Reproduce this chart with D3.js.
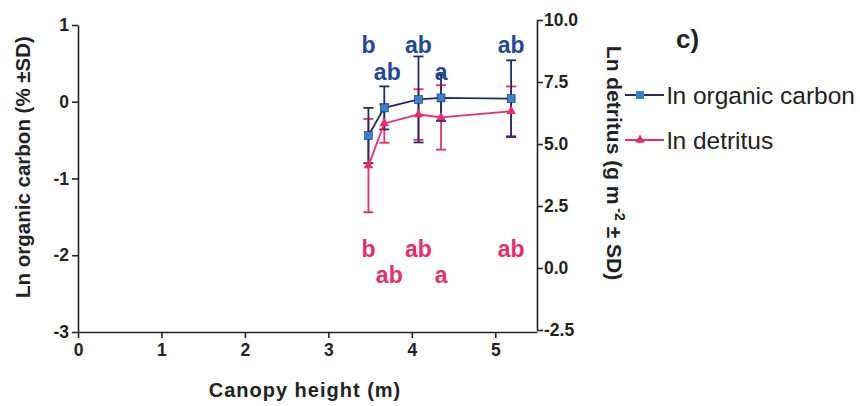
<!DOCTYPE html>
<html><head><meta charset="utf-8">
<script src="https://cdn.jsdelivr.net/npm/d3@7"></script>
<style>body{margin:0;background:#fff}svg{display:block}text{font-family:"Liberation Sans",Arial,sans-serif}</style>
</head><body>
<script>
const canopyHeight = [3.48, 3.67, 4.08, 4.35, 5.19];
const lnCarbon = [-0.44, -0.08, 0.03, 0.05, 0.04];
const lnCarbonSD = [0.36, 0.28, 0.56, 0.30, 0.50];
const lnDetritus = [4.13, 5.83, 6.19, 6.07, 6.32];
const lnDetritusSD = [1.88, 0.78, 1.02, 1.30, 1.00];
const carbonLetters = ["b", "ab", "ab", "a", "ab"];
const detritusLetters = ["b", "ab", "ab", "a", "ab"];
const xTicks = [0, 1, 2, 3, 4, 5];
const leftTicks = [1, 0, -1, -2, -3];
const rightTicks = [10, 7.5, 5, 2.5, 0, -2.5];

const W = 860, H = 406;
const svg = d3.select("body").append("svg").attr("width", W).attr("height", H);
const x = d3.scaleLinear().domain([0, 5.5]).range([78, 537]);
const yL = d3.scaleLinear().domain([-3, 1]).range([332, 25]);
const yR = d3.scaleLinear().domain([-2.5, 10]).range([330, 20]);

const blue = "#3b7fcf", navy = "#1d2f63", letterBlue = "#23479a", pink = "#ea2c6e";

function styleAxis(g){
  g.selectAll("path,line").attr("stroke", "#222").attr("stroke-width", 1.6);
  g.selectAll("text").attr("font-size", 17.5).attr("font-weight", "bold").attr("fill", "#222");
}
svg.append("g").attr("transform", "translate(0,332)")
  .call(d3.axisBottom(x).tickValues(xTicks).tickFormat(d => String(d)).tickSize(6).tickSizeOuter(0).tickPadding(6))
  .call(styleAxis);
svg.append("g").attr("transform", "translate(78,0)")
  .call(d3.axisLeft(yL).tickValues(leftTicks).tickFormat(d => String(d)).tickSize(6).tickSizeOuter(0).tickPadding(3))
  .call(styleAxis);
svg.append("g").attr("transform", "translate(537,0)")
  .call(d3.axisRight(yR).tickValues(rightTicks).tickFormat(d => d.toFixed(1)).tickSize(6).tickSizeOuter(0).tickPadding(1))
  .call(styleAxis);

// error bars
function errBars(vals, sds, y, color){
  const g = svg.append("g").attr("stroke", color).attr("stroke-width", 1.8).attr("fill", "none");
  canopyHeight.forEach((h, i) => {
    const cx = x(h), t = y(vals[i] + sds[i]), b = y(vals[i] - sds[i]);
    g.append("line").attr("x1", cx).attr("x2", cx).attr("y1", t).attr("y2", b);
    g.append("line").attr("x1", cx - 5).attr("x2", cx + 5).attr("y1", t).attr("y2", t);
    g.append("line").attr("x1", cx - 5).attr("x2", cx + 5).attr("y1", b).attr("y2", b);
  });
}
errBars(lnDetritus, lnDetritusSD, yR, pink);
errBars(lnCarbon, lnCarbonSD, yL, navy);

const line = (y, vals) => d3.line().x((d, i) => x(canopyHeight[i])).y((d, i) => y(vals[i]))(vals);
svg.append("path").attr("d", line(yR, lnDetritus)).attr("fill", "none").attr("stroke", pink).attr("stroke-width", 1.8);
svg.append("path").attr("d", line(yL, lnCarbon)).attr("fill", "none").attr("stroke", navy).attr("stroke-width", 1.8);

const tri = d3.symbol().type(d3.symbolTriangle).size(40);
svg.append("g").selectAll("path").data(lnDetritus).join("path")
  .attr("d", tri).attr("fill", pink)
  .attr("transform", (d, i) => `translate(${x(canopyHeight[i])},${yR(d)})`);
svg.append("g").selectAll("rect").data(lnCarbon).join("rect")
  .attr("x", (d, i) => x(canopyHeight[i]) - 4).attr("y", d => yL(d) - 4)
  .attr("width", 8).attr("height", 8).attr("fill", blue).attr("stroke", navy).attr("stroke-width", 0.6);

// significance letters
const letterRows = [53, 80];
svg.append("g").selectAll("text").data(carbonLetters).join("text")
  .attr("x", (d, i) => x(canopyHeight[i]) + (i === 1 ? 3 : 0)).attr("y", (d, i) => letterRows[i % 2])
  .attr("text-anchor", "middle").attr("font-size", 23).attr("font-weight", "bold").attr("fill", letterBlue).text(d => d);
const pinkRows = [257, 283];
svg.append("g").selectAll("text").data(detritusLetters).join("text")
  .attr("x", (d, i) => x(canopyHeight[i]) + (i === 1 ? 5 : 0)).attr("y", (d, i) => pinkRows[i % 2])
  .attr("text-anchor", "middle").attr("font-size", 23).attr("font-weight", "bold").attr("fill", pink).text(d => d);

// axis titles
svg.append("text").attr("transform", "translate(30,167) rotate(-90)").attr("text-anchor", "middle")
  .attr("font-size", 20.5).attr("font-weight", "bold").attr("fill", "#222").text("Ln organic carbon (% \u00b1SD)");
const rt = svg.append("text").attr("transform", "translate(607,163) rotate(90)").attr("text-anchor", "middle")
  .attr("font-size", 21).attr("font-weight", "bold").attr("fill", "#222");
rt.append("tspan").text("Ln detritus (g m");
rt.append("tspan").attr("dy", -8).attr("font-size", 14).text(" -2");
rt.append("tspan").attr("dy", 8).text(" \u00b1 SD)");
svg.append("text").attr("x", 305).attr("y", 397).attr("text-anchor", "middle").attr("letter-spacing", 1)
  .attr("font-size", 20).attr("font-weight", "bold").attr("fill", "#222").text("Canopy height (m)");
svg.append("text").attr("x", 676).attr("y", 48).attr("font-size", 26).attr("font-weight", "bold").attr("fill", "#222").text("c)");

// legend
const leg = [{label: "ln organic carbon", color: navy, fill: blue, sym: "sq", y: 95},
             {label: "ln detritus", color: pink, fill: pink, sym: "tri", y: 140}];
leg.forEach(l => {
  svg.append("line").attr("x1", 625).attr("x2", 664).attr("y1", l.y).attr("y2", l.y).attr("stroke", l.color).attr("stroke-width", 1.8);
  if (l.sym === "sq") svg.append("rect").attr("x", 636).attr("y", l.y - 4).attr("width", 8).attr("height", 8).attr("fill", l.fill);
  else svg.append("path").attr("d", tri).attr("fill", l.fill).attr("transform", `translate(640,${l.y})`);
  svg.append("text").attr("x", 667).attr("y", l.y + 9).attr("font-size", 24.5).attr("fill", "#222").text(l.label);
});
</script>
</body></html>
